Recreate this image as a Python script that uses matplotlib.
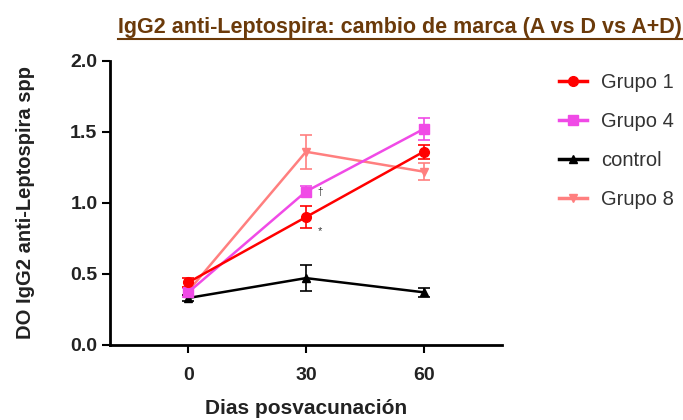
import matplotlib
matplotlib.use("Agg")
import matplotlib.pyplot as plt
from matplotlib.lines import Line2D

plt.rcParams['font.family'] = ['Liberation Sans', 'DejaVu Sans']

days = [0, 30, 60]
grupo1 = [0.44, 0.90, 1.36]
grupo1_err = [0.03, 0.08, 0.05]
grupo4 = [0.37, 1.08, 1.52]
grupo4_err = [0.03, 0.04, 0.08]
control = [0.33, 0.47, 0.37]
control_err = [0.02, 0.09, 0.03]
grupo8 = [0.38, 1.36, 1.22]
grupo8_err = [0.03, 0.12, 0.06]

title = "IgG2 anti-Leptospira: cambio de marca (A vs D vs A+D)"
xlabel = "Dias posvacunación"
ylabel = "DO IgG2 anti-Leptospira spp"
xticks = [0, 30, 60]
yticks = [0.0, 0.5, 1.0, 1.5, 2.0]
labels = ['Grupo 1', 'Grupo 4', 'control', 'Grupo 8']

fig = plt.figure(figsize=(6.83, 4.2), dpi=100)
ax = fig.add_axes([0.161, 0.179, 0.574, 0.676])

ekw = dict(capsize=4, elinewidth=1.2, capthick=1.2, linewidth=1.8)
c8, cc, c4, c1 = '#FF7F7F', 'black', '#F04AE6', '#FF0000'
ax.errorbar(days, grupo8, yerr=grupo8_err, color=c8, marker='v', markersize=6, **ekw)
ax.errorbar(days, control, yerr=control_err, color=cc, marker='^', markersize=6, **ekw)
ax.errorbar(days, grupo4, yerr=grupo4_err, color=c4, marker='s', markersize=7, **ekw)
ax.errorbar(days, grupo1, yerr=grupo1_err, color=c1, marker='o', markersize=7, **ekw)

ax.text(days[1] + 3.0, grupo4[1], "†", fontsize=7, va='center', ha='left', color='#333333')
ax.text(days[1] + 3.0, grupo1[1] - 0.1, "*", fontsize=8, va='center', ha='left', color='#333333')

ax.set_xlim(-20, 80)
ax.set_ylim(0, 2.0)
ax.set_xticks(xticks)
ax.set_yticks(yticks)
ax.set_yticklabels([f"{v:.1f}" for v in yticks])
ax.tick_params(axis='both', direction='out', length=6, width=1.5,
               labelsize=14, colors='black')
ax.tick_params(axis='x', pad=10)
ax.tick_params(axis='y', pad=3)
for lab in ax.get_xticklabels() + ax.get_yticklabels():
    lab.set_fontweight('bold')
    lab.set_color('#222222')
for s in ['top', 'right']:
    ax.spines[s].set_visible(False)
for s in ['left', 'bottom']:
    ax.spines[s].set_linewidth(2)

ax.set_xlabel(xlabel, fontsize=15, fontweight='bold', labelpad=11, color='#222222')
ax.set_ylabel(ylabel, fontsize=14.5, fontweight='bold', color='#222222')
ax.yaxis.set_label_coords(-0.19, 0.5)

handles = [Line2D([], [], color=c1, marker='o', markersize=7, linewidth=2.5),
           Line2D([], [], color=c4, marker='s', markersize=7, linewidth=2.5),
           Line2D([], [], color=cc, marker='^', markersize=6, linewidth=2.5),
           Line2D([], [], color=c8, marker='v', markersize=6, linewidth=2.5)]
fig.legend(handles=handles, labels=labels,
           loc='upper left', bbox_to_anchor=(0.818, 0.826), frameon=False,
           borderaxespad=0, borderpad=0,
           fontsize=14.5, labelspacing=1.0, handlelength=1.4, handletextpad=0.7,
           labelcolor='#333333')

t = fig.text(0.586, 0.935, title, ha='center', va='center', fontsize=15.5,
             fontweight='bold', color='#6B3A0A')
fig.canvas.draw()
bb = t.get_window_extent().transformed(fig.transFigure.inverted())
fig.add_artist(Line2D([bb.x0, bb.x1], [bb.y0 - 0.004, bb.y0 - 0.004],
                      transform=fig.transFigure, color='#6B3A0A', linewidth=1.5))

fig.savefig("out.png", dpi=100)
